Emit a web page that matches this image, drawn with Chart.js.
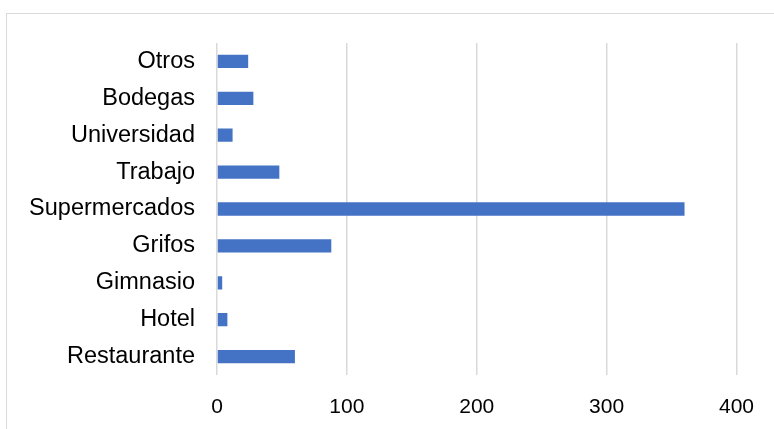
<!DOCTYPE html>
<html>
<head>
<meta charset="utf-8">
<script src="https://cdn.jsdelivr.net/npm/chart.js@4/dist/chart.umd.min.js"></script>
<style>
  html, body { margin: 0; padding: 0; background: #fff; overflow: hidden; }
  #wrap { position: relative; width: 774px; height: 429px; }
  #frame { position: absolute; left: 6px; top: 13px; width: 800px; height: 500px; border: 1px solid #d9d9d9; }
  canvas { position: absolute; left: 0; top: 0; }
</style>
</head>
<body>
<div id="wrap">
  <div id="frame"></div>
  <canvas id="chart" width="774" height="429"></canvas>
</div>
<script>
const categories = ["Otros", "Bodegas", "Universidad", "Trabajo", "Supermercados", "Grifos", "Gimnasio", "Hotel", "Restaurante"];
const values = [24, 28, 12, 48, 360, 88, 4, 8, 60];
const xTicks = [0, 100, 200, 300, 400];

const ctx = document.getElementById("chart").getContext("2d");

new Chart(ctx, {
  type: "bar",
  data: {
    labels: categories,
    datasets: [{
      data: values,
      backgroundColor: "#4472C4",
      borderWidth: 0,
      barPercentage: 0.36,
      categoryPercentage: 1,
    }],
  },
  options: {
    indexAxis: "y",
    responsive: false,
    animation: false,
    layout: { padding: { top: 43, right: 34, left: 0, bottom: 0 } },
    plugins: {
      legend: { display: false },
      tooltip: { enabled: false },
    },
    scales: {
      x: {
        min: 0,
        max: 400,
        afterBuildTicks: (scale) => {
          scale.ticks = xTicks.map((v) => ({ value: v }));
        },
        afterFit: (scale) => { scale.height = 54; },
        grid: { color: "#d9d9d9", lineWidth: 1.5, drawTicks: false },
        border: { display: false },
        ticks: {
          padding: 20,
          color: "#000",
          font: { family: "'Liberation Sans', Arial, sans-serif", size: 21 },
        },
      },
      y: {
        afterFit: (scale) => { scale.width = 217; },
        grid: { display: false, drawTicks: false },
        border: { display: false },
        ticks: {
          padding: 22,
          color: "#000",
          font: { family: "'Liberation Sans', Arial, sans-serif", size: 23.5 },
        },
      },
    },
  },
});
</script>
</body>
</html>
